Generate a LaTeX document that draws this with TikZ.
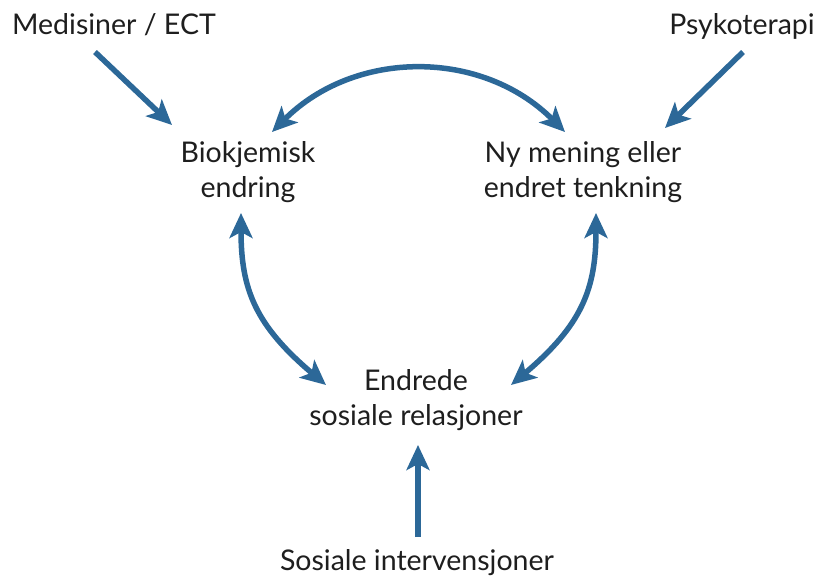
\documentclass[tikz,border=0pt]{standalone}
\usepackage{fontspec}
\setmainfont{Lato}
\usetikzlibrary{arrows.meta,calc}
\definecolor{arrowblue}{RGB}{44,104,152}
\definecolor{txtgray}{RGB}{30,30,30}
\begin{document}
\begin{tikzpicture}[x=1pt,y=-1pt,
  lbl/.style={font=\fontsize{28.5}{35}\selectfont, text=txtgray, inner sep=0pt, align=center},
  onearr/.style={draw=arrowblue, line width=5.5pt, -{Stealth[length=25pt,width=23pt,inset=6pt]}},
  twoarr/.style={draw=arrowblue, line width=5.5pt, {Stealth[length=25pt,width=23pt,inset=6pt]}-{Stealth[length=25pt,width=23pt,inset=6pt]}}
]
\useasboundingbox (0,0) rectangle (825,577);

\node[lbl, anchor=base] (med) at (114,35) {Medisiner / ECT};
\node[lbl, anchor=base] (psy) at (742,35) {Psykoterapi};
\node[lbl] (bio) at (248,172) {Biokjemisk\\endring};
\node[lbl] (ny) at (583,172) {Ny mening eller\\endret tenkning};
\node[lbl] (endr) at (416,400) {Endrede\\sosiale relasjoner};
\node[lbl, anchor=base] (sos) at (417,570) {Sosiale intervensjoner};

% straight arrows into the top nodes
\draw[onearr] ($(med.base)+(-19,17)$) -- ($(bio)+(-76,-47)$);
\draw[onearr] ($(psy.base)+(1,17)$) -- ($(ny)+(82,-44)$);

% top arc
\draw[twoarr] ($(bio)+(24,-40)$) .. controls (355,49) and (482,49) .. ($(ny)+(-18,-40)$);

% left arc
\draw[twoarr] ($(bio)+(-7,41)$) .. controls (241,289) and (255,325) .. ($(endr)+(-90,-15)$);

% right arc
\draw[twoarr] ($(ny)+(13,41)$) .. controls (596,289) and (582,325) .. ($(endr)+(95,-15)$);

% bottom arrow
\draw[onearr] ($(sos.base)+(1,-33)$) -- ($(endr)+(2,45)$);
\end{tikzpicture}
\end{document}
